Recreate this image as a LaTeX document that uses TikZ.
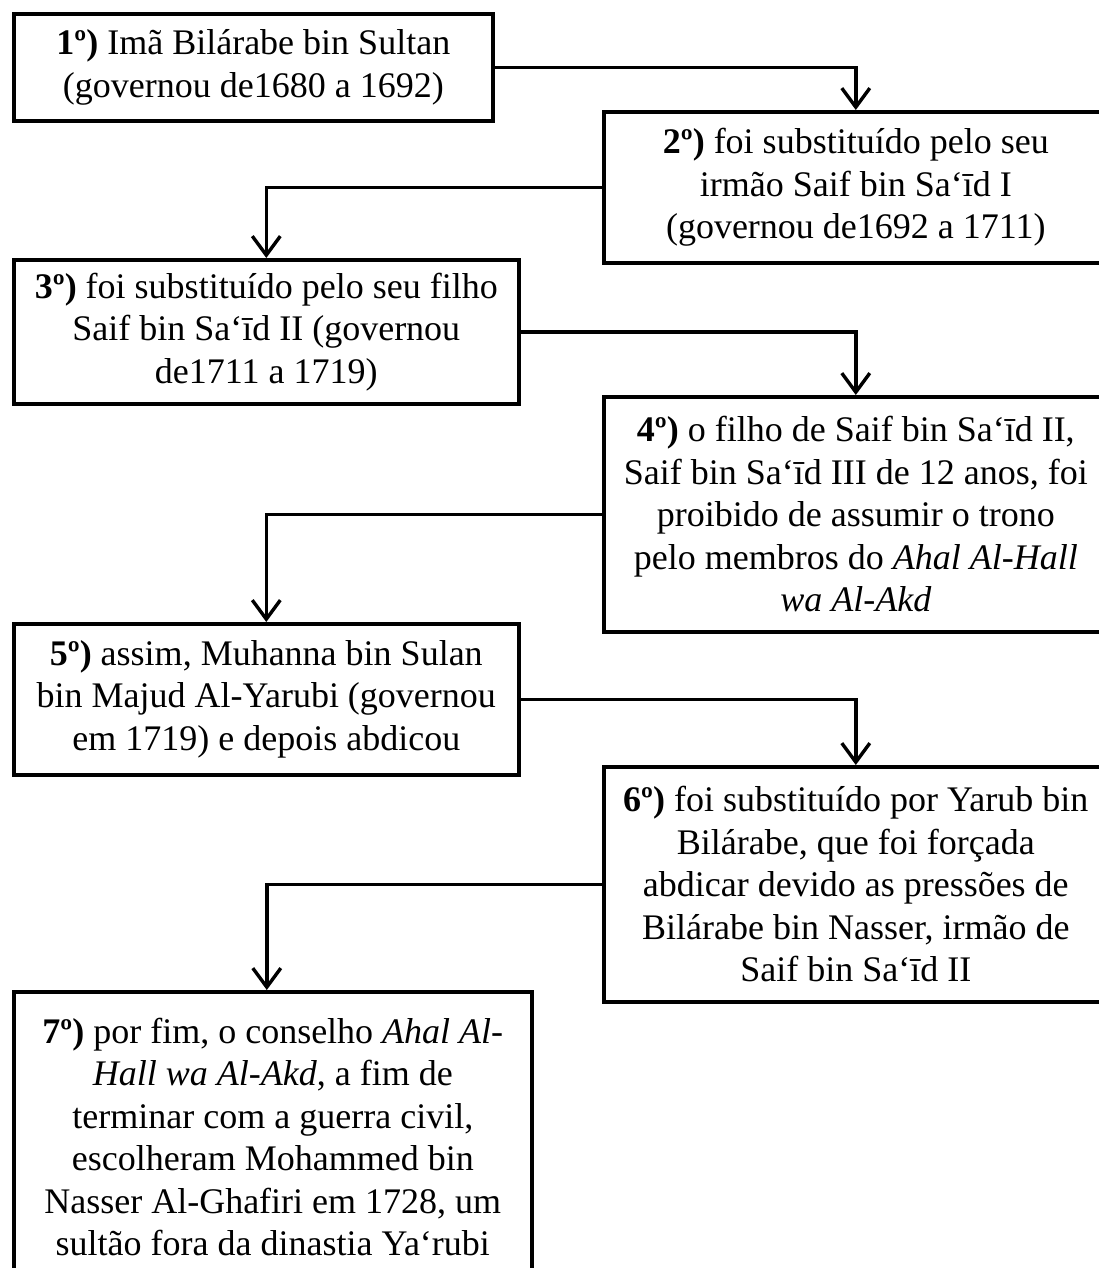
\documentclass[tikz,border=0pt]{standalone}
\usepackage{fontspec}
\setmainfont{Liberation Serif}
\usetikzlibrary{arrows.meta}
\tikzset{
  box/.style={draw=black, line width=3.6pt, fill=white, anchor=north west,
    align=center, inner sep=0pt, font=\fontsize{36}{42.5}\selectfont},
  conn/.style={draw=black, line width=3.4pt,
    -{Straight Barb[length=19pt,width=28pt,line width=3.4pt]}},
}
\begin{document}
\begin{tikzpicture}[x=1pt,y=-1pt]
\useasboundingbox (0,0) rectangle (1099,1268);
\clip (0,0) rectangle (1099,1268);
\fill[white] (0,0) rectangle (1099,1268);

\node[box, minimum width=479pt, minimum height=107pt] (b1) at (12,12)
  {\textbf{1º)} Imã Bilárabe bin Sultan\\(governou de1680 a 1692)};
\node[box, minimum width=504pt, minimum height=151pt] (b2) at (602,110)
  {\textbf{2º)} foi substituído pelo seu\\irmão Saif bin Sa‘īd I\\(governou de1692 a 1711)};
\node[box, minimum width=505pt, minimum height=144pt] (b3) at (12,258)
  {\textbf{3º)} foi substituído pelo seu filho\\Saif bin Sa‘īd II (governou\\de1711 a 1719)};
\node[box, minimum width=504pt, minimum height=235pt] (b4) at (602,395)
  {\textbf{4º)} o filho de Saif bin Sa‘īd II,\\Saif bin Sa‘īd III de 12 anos, foi\\proibido de assumir o trono\\pelo membros do \textit{Ahal Al-Hall}\\\textit{wa Al-Akd}};
\node[box, minimum width=505pt, minimum height=151pt] (b5) at (12,622)
  {\textbf{5º)} assim, Muhanna bin Sulan\\bin Majud Al-Yarubi (governou\\em 1719) e depois abdicou};
\node[box, minimum width=504pt, minimum height=235pt] (b6) at (602,765)
  {\textbf{6º)} foi substituído por Yarub bin\\Bilárabe, que foi forçada\\abdicar devido as pressões de\\Bilárabe bin Nasser, irmão de\\Saif bin Sa‘īd II};
\node[box, minimum width=518pt, minimum height=290pt] (b7) at (12,990)
  {\textbf{7º)} por fim, o conselho \textit{Ahal Al-}\\\textit{Hall wa Al-Akd}, a fim de\\terminar com a guerra civil,\\escolheram Mohammed bin\\Nasser Al-Ghafiri em 1728, um\\sultão fora da dinastia Ya‘rubi};

\draw[conn] (b1.east) -| (b2.north);
\draw[conn] (b2.west) -| (b3.north);
\draw[conn] (b3.east) -| (b4.north);
\draw[conn] (b4.west) -| (b5.north);
\draw[conn] (b5.east) -| (b6.north);
\draw[conn] (b6.west) -| ([xshift=-6pt]b7.north);
\end{tikzpicture}
\end{document}
